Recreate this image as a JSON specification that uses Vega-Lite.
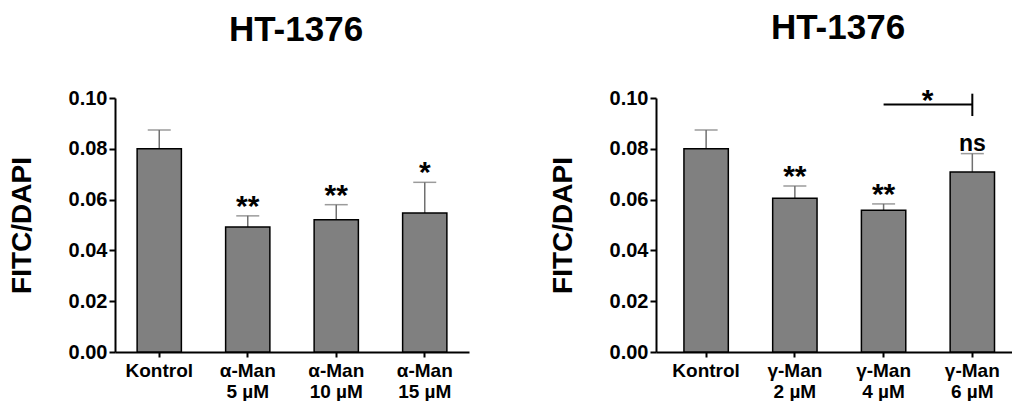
{
  "$schema": "https://vega.github.io/schema/vega-lite/v6.json",
  "padding": {"left": 8, "top": 10, "right": 0, "bottom": 0},
  "spacing": 80,
  "config": {
    "font": "Liberation Sans",
    "view": {"stroke": null},
    "title": {"fontSize": 35, "fontWeight": "bold", "color": "black", "offset": 40, "dx": 4, "frame": "group"},
    "axisX": {"labelAngle": 0, "tickSize": 5, "labelFontSize": 19, "labelFontWeight": "bold", "labelColor": "black", "labelLineHeight": 21, "labelPadding": 4, "domainWidth": 2, "domainColor": "black", "tickWidth": 2, "tickColor": "black", "labelExpr": "split(datum.label, '|')", "labelBaseline": "top"},
    "axisY": {"grid": false, "labelFontSize": 20, "labelFontWeight": "bold", "labelColor": "black", "labelPadding": 2, "titleFontSize": 28, "titleFontWeight": "bold", "titleColor": "black", "titlePadding": 32, "domainWidth": 2, "domainColor": "black", "tickWidth": 2, "tickColor": "black", "labelOverlap": false}
  },
  "datasets": {
    "left": [
      {"cat": "Kontrol", "mean": 0.0800, "err": 0.0874, "sig": ""},
      {"cat": "α-Man|5 µM", "mean": 0.0492, "err": 0.0536, "sig": "**"},
      {"cat": "α-Man|10 µM", "mean": 0.0521, "err": 0.0580, "sig": "**"},
      {"cat": "α-Man|15 µM", "mean": 0.0547, "err": 0.0668, "sig": "*"}
    ],
    "right": [
      {"cat": "Kontrol", "mean": 0.0800, "err": 0.0874, "sig": ""},
      {"cat": "γ-Man|2 µM", "mean": 0.0605, "err": 0.0654, "sig": "**"},
      {"cat": "γ-Man|4 µM", "mean": 0.0558, "err": 0.0583, "sig": "**"},
      {"cat": "γ-Man|6 µM", "mean": 0.0709, "err": 0.0781, "sig": "ns"}
    ],
    "bracketH": [{"from": "γ-Man|4 µM", "to": "γ-Man|6 µM", "y": 0.0974, "label": "*"}],
    "bracketV": [{"at": "γ-Man|6 µM", "y1": 0.0929, "y2": 0.1017}]
  },
  "hconcat": [
    {
      "width": 354, "height": 254,
      "title": "HT-1376",
      "data": {"name": "left"},
      "encoding": {
        "x": {"field": "cat", "type": "nominal", "sort": null, "title": null,
              "scale": {"domain": ["Kontrol", "α-Man|5 µM", "α-Man|10 µM", "α-Man|15 µM"], "paddingInner": 0.5, "paddingOuter": 0.25}}
      },
      "layer": [
        {"mark": {"type": "rule", "color": "#707070", "strokeWidth": 1.5},
         "encoding": {"y": {"field": "mean", "type": "quantitative"}, "y2": {"field": "err"}}},
        {"mark": {"type": "tick", "orient": "horizontal", "size": 23, "thickness": 1.5, "color": "#707070"},
         "encoding": {"y": {"field": "err", "type": "quantitative"}}},
        {"mark": {"type": "bar", "fill": "#808080", "stroke": "black", "strokeWidth": 1.5},
         "encoding": {"y": {"field": "mean", "type": "quantitative", "title": "FITC/DAPI",
              "scale": {"domain": [0, 0.1], "nice": false},
              "axis": {"values": [0, 0.01, 0.02, 0.03, 0.04, 0.05, 0.06, 0.07, 0.08, 0.09, 0.1],
                       "labelExpr": "round(datum.value*100)%2==0 ? format(datum.value,'.2f') : ''",
                       "tickSize": {"condition": {"test": "round(datum.value*100)%2==1", "value": 3}, "value": 6}}}}},
        {"transform": [{"filter": "datum.sig != 'ns'"}],
         "mark": {"type": "text", "fontSize": 30, "fontWeight": "bold", "baseline": "alphabetic", "dy": 0, "color": "black"},
         "encoding": {"y": {"field": "err", "type": "quantitative"}, "text": {"field": "sig"}}}
      ]
    },
    {
      "width": 356, "height": 254,
      "title": "HT-1376",
      "encoding": {
        "x": {"field": "cat", "type": "nominal", "sort": null, "title": null,
              "scale": {"domain": ["Kontrol", "γ-Man|2 µM", "γ-Man|4 µM", "γ-Man|6 µM"], "paddingInner": 0.5, "paddingOuter": 0.256, "align": 0.615}}
      },
      "layer": [
        {"data": {"name": "right"},
         "mark": {"type": "rule", "color": "#707070", "strokeWidth": 1.5},
         "encoding": {"y": {"field": "mean", "type": "quantitative"}, "y2": {"field": "err"}}},
        {"data": {"name": "right"},
         "mark": {"type": "tick", "orient": "horizontal", "size": 23, "thickness": 1.5, "color": "#707070"},
         "encoding": {"y": {"field": "err", "type": "quantitative"}}},
        {"data": {"name": "right"},
         "mark": {"type": "bar", "fill": "#808080", "stroke": "black", "strokeWidth": 1.5},
         "encoding": {"y": {"field": "mean", "type": "quantitative", "title": "FITC/DAPI",
              "scale": {"domain": [0, 0.1], "nice": false},
              "axis": {"values": [0, 0.01, 0.02, 0.03, 0.04, 0.05, 0.06, 0.07, 0.08, 0.09, 0.1],
                       "labelExpr": "round(datum.value*100)%2==0 ? format(datum.value,'.2f') : ''",
                       "tickSize": {"condition": {"test": "round(datum.value*100)%2==1", "value": 3}, "value": 6}}}}},
        {"data": {"name": "right"},
         "transform": [{"filter": "datum.sig != 'ns'"}],
         "mark": {"type": "text", "fontSize": 30, "fontWeight": "bold", "baseline": "alphabetic", "dy": 0, "color": "black"},
         "encoding": {"y": {"field": "err", "type": "quantitative"}, "text": {"field": "sig"}}},
        {"data": {"name": "right"},
         "transform": [{"filter": "datum.sig == 'ns'"}],
         "mark": {"type": "text", "fontSize": 23, "fontWeight": "bold", "baseline": "alphabetic", "dy": -3, "color": "black"},
         "encoding": {"y": {"field": "err", "type": "quantitative"}, "text": {"field": "sig"}}},
        {"data": {"name": "bracketH"},
         "mark": {"type": "rule", "color": "black", "strokeWidth": 2, "clip": false},
         "encoding": {"x": {"field": "from", "type": "nominal"}, "x2": {"field": "to"}, "y": {"field": "y", "type": "quantitative"}}},
        {"data": {"name": "bracketV"},
         "mark": {"type": "rule", "color": "black", "strokeWidth": 2, "clip": false},
         "encoding": {"x": {"field": "at", "type": "nominal"}, "y": {"field": "y1", "type": "quantitative"}, "y2": {"field": "y2"}}},
        {"data": {"name": "bracketH"},
         "mark": {"type": "text", "fontSize": 30, "fontWeight": "bold", "baseline": "alphabetic", "dx": 44, "dy": 5, "color": "black"},
         "encoding": {"x": {"field": "from", "type": "nominal"}, "y": {"field": "y", "type": "quantitative"}, "text": {"field": "label"}}}
      ]
    }
  ]
}
